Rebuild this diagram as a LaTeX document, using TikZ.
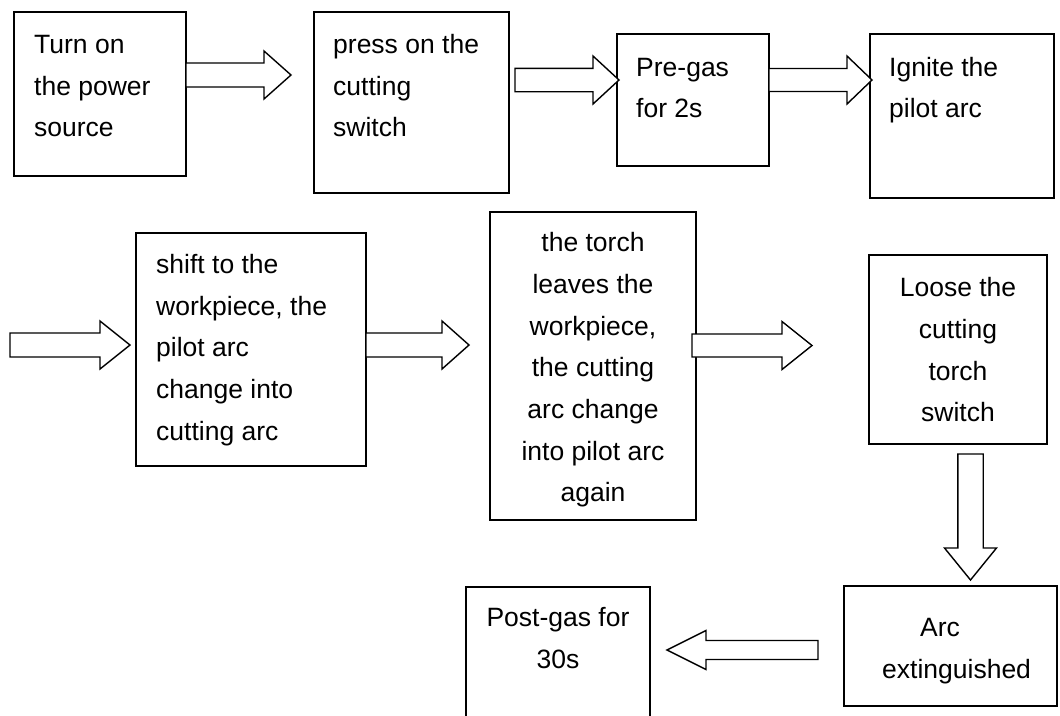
\documentclass[tikz,border=0pt]{standalone}
\usepackage{fontspec}
\setmainfont{Liberation Sans}
\newcommand\rblock[6]{% x0, xhead, xtip, ycentre, body half, head half
  \draw[blk] (#1,#4-#5) -- (#2,#4-#5) -- (#2,#4-#6) -- (#3,#4) -- (#2,#4+#6) -- (#2,#4+#5) -- (#1,#4+#5) -- cycle;}
\newcommand\dblock[6]{% y0, yhead, ytip, xcentre, body half, head half
  \draw[blk] (#4-#5,#1) -- (#4-#5,#2) -- (#4-#6,#2) -- (#4,#3) -- (#4+#6,#2) -- (#4+#5,#2) -- (#4+#5,#1) -- cycle;}
\begin{document}
\begin{tikzpicture}[x=1pt,y=-1pt,
  box/.style={draw=black,line width=1.5pt,fill=white,inner sep=0pt,outer sep=0pt,anchor=north west},
  blk/.style={draw=black,line width=1.4pt,fill=white,line join=miter},
  txt/.style={inner sep=0pt,font=\fontsize{26.5}{31}\selectfont,text=black}]
\useasboundingbox (0,0) rectangle (1060,715);
\clip (0,0) rectangle (1060,715);
\fill[white] (0,0) rectangle (1060,715);
% boxes
\node[box,minimum width=172,minimum height=164] (b1) at (14,12) {};
\node[box,minimum width=195,minimum height=181] (b2) at (314,12) {};
\node[box,minimum width=152,minimum height=132] (b3) at (617,34) {};
\node[box,minimum width=184,minimum height=164] (b4) at (870,34) {};
\node[box,minimum width=230,minimum height=233] (b5) at (136,233) {};
\node[box,minimum width=206,minimum height=308] (b6) at (490,212) {};
\node[box,minimum width=178,minimum height=189] (b7) at (869,255) {};
\node[box,minimum width=213,minimum height=120] (b8) at (844,586) {};
\node[box,minimum width=184,minimum height=153] (b9) at (466,587) {};
% arrows
\rblock{186}{264}{291}{75}{12}{24}
\rblock{515}{593}{619}{80}{11.7}{24}
\rblock{769}{847}{872}{80}{11.5}{24}
\rblock{10}{100}{130}{345}{12}{24}
\rblock{366}{442}{469}{345}{12}{24}
\rblock{692}{782}{812}{345.5}{11.5}{24}
\dblock{454}{548}{580}{970.5}{12.7}{26}
\rblock{818}{706}{667}{650}{9.5}{19.5}
% texts
\node[txt,anchor=base west] (t1a) at (34,53.3) {Turn on};
\node[txt,anchor=base west] (t1b) at (34,95) {the power};
\node[txt,anchor=base west] (t1c) at (34,136.7) {source};
\node[txt,anchor=base west] (t2a) at (333,53.3) {press on the};
\node[txt,anchor=base west] (t2b) at (333,95) {cutting};
\node[txt,anchor=base west] (t2c) at (333,136.7) {switch};
\node[txt,anchor=base west] (t3a) at (636,76) {Pre-gas};
\node[txt,anchor=base west] (t3b) at (636,117) {for 2s};
\node[txt,anchor=base west] (t4a) at (889,76) {Ignite the};
\node[txt,anchor=base west] (t4b) at (889,117) {pilot arc};
\node[txt,anchor=base west] (t5a) at (156,273.3) {shift to the};
\node[txt,anchor=base west] (t5b) at (156,315) {workpiece, the};
\node[txt,anchor=base west] (t5c) at (156,356.7) {pilot arc};
\node[txt,anchor=base west] (t5d) at (156,398.3) {change into};
\node[txt,anchor=base west] (t5e) at (156,440) {cutting arc};
\node[txt,anchor=base] (t6a) at (593,251.7) {the torch};
\node[txt,anchor=base] (t6b) at (593,293.3) {leaves the};
\node[txt,anchor=base] (t6c) at (593,335) {workpiece,};
\node[txt,anchor=base] (t6d) at (593,376.6) {the cutting};
\node[txt,anchor=base] (t6e) at (593,418.3) {arc change};
\node[txt,anchor=base] (t6f) at (593,460) {into pilot arc};
\node[txt,anchor=base] (t6g) at (593,501.6) {again};
\node[txt,anchor=base] (t7a) at (958,296.7) {Loose the};
\node[txt,anchor=base] (t7b) at (958,338.3) {cutting};
\node[txt,anchor=base] (t7c) at (958,380) {torch};
\node[txt,anchor=base] (t7d) at (958,421.7) {switch};
\node[txt,anchor=base west] (t8a) at (920,636.7) {Arc};
\node[txt,anchor=base west] (t8b) at (882,678.3) {extinguished};
\node[txt,anchor=base] (t9a) at (558,626.7) {Post-gas for};
\node[txt,anchor=base] (t9b) at (558,668.3) {30s};
\end{tikzpicture}
\end{document}
